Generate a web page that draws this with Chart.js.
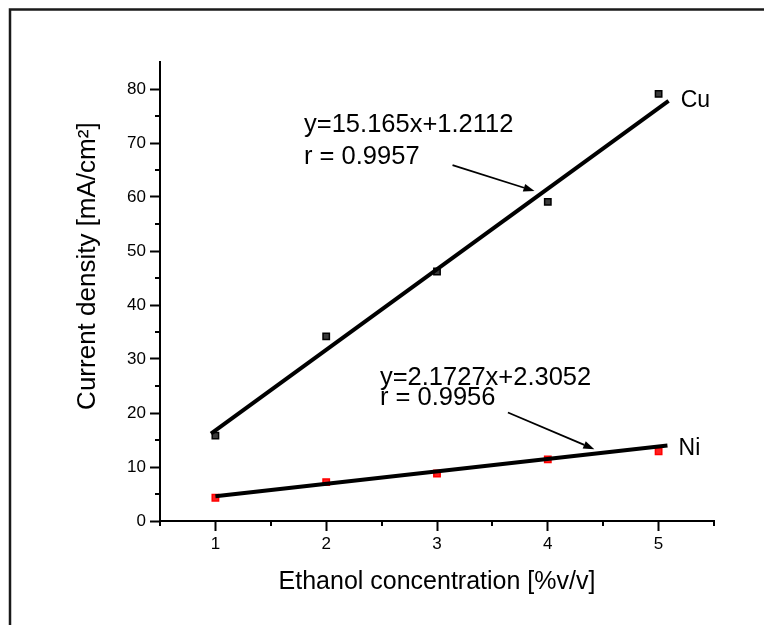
<!DOCTYPE html>
<html>
<head>
<meta charset="utf-8">
<script src="https://cdn.jsdelivr.net/npm/chart.js@4.4.1/dist/chart.umd.min.js"></script>
<style>
html, body { margin: 0; padding: 0; background: #fff; }
#wrap { width: 764px; height: 625px; }
</style>
</head>
<body>
<div id="wrap"><canvas id="chart" width="764" height="625"></canvas></div>
<script>
// measured points
var concentration = [1, 2, 3, 4, 5];
var cuDensity = [15.8, 34.2, 46.2, 59.1, 79.1];
var niDensity = [4.3, 7.2, 8.8, 11.4, 12.9];

// fitted lines, end points as drawn
var cuFitX = [0.96, 5.09];
var cuFitY = [16.2, 77.8];
var niFitX = [1.0, 5.08];
var niFitY = [4.6, 14.0];

// axis ticks
var xTicks = [1, 2, 3, 4, 5];
var yTicks = [0, 10, 20, 30, 40, 50, 60, 70, 80];
var xMinorTicks = [0.5, 1.5, 2.5, 3.5, 4.5, 5.5];
var yMinorTicks = [5, 15, 25, 35, 45, 55, 65, 75];

// text notes and arrows, in data units
var notes = [
  { text: 'y=15.165x+1.2112', x: 1.8, y: 72.1, size: 25.5 },
  { text: 'r = 0.9957', x: 1.8, y: 66.2, size: 25.5 },
  { text: 'y=2.1727x+2.3052', x: 2.485, y: 25.2, size: 25.5 },
  { text: 'r = 0.9956', x: 2.485, y: 21.5, size: 25.5 },
  { text: 'Cu', x: 5.2, y: 76.7, size: 23 },
  { text: 'Ni', x: 5.18, y: 12.2, size: 23 }
];
var arrows = [
  { from: [3.14, 65.9], to: [3.88, 61.1] },
  { from: [3.64, 20.1], to: [4.42, 13.3] }
];

var FONT = "'Liberation Sans', Arial, sans-serif";

function pts(xs, ys) {
  return xs.map(function (x, i) { return { x: x, y: ys[i] }; });
}

var decorations = {
  id: 'decorations',
  beforeDraw: function (chart) {
    var ctx = chart.ctx;
    ctx.save();
    ctx.fillStyle = '#fff';
    ctx.fillRect(0, 0, chart.width, chart.height);
    // outer frame (open at right and bottom)
    ctx.strokeStyle = '#1a1a1a';
    ctx.lineWidth = 2.5;
    ctx.beginPath();
    ctx.moveTo(10, chart.height + 5);
    ctx.lineTo(10, 9.5);
    ctx.lineTo(chart.width + 5, 9.5);
    ctx.stroke();
    ctx.restore();
  },
  afterDraw: function (chart) {
    var ctx = chart.ctx;
    var xs = chart.scales.x, ys = chart.scales.y;
    var area = chart.chartArea;
    ctx.save();
    ctx.strokeStyle = '#000';
    ctx.fillStyle = '#000';
    ctx.lineWidth = 2;

    // minor ticks
    ctx.beginPath();
    xMinorTicks.forEach(function (v) {
      var px = Math.round(xs.getPixelForValue(v));
      ctx.moveTo(px, area.bottom);
      ctx.lineTo(px, area.bottom + 5);
    });
    yMinorTicks.forEach(function (v) {
      var py = Math.round(ys.getPixelForValue(v));
      ctx.moveTo(area.left - 5, py);
      ctx.lineTo(area.left, py);
    });
    ctx.stroke();

    // y axis title
    ctx.save();
    ctx.translate(area.left - 72, ys.getPixelForValue(47.2));
    ctx.rotate(-Math.PI / 2);
    ctx.font = '26px ' + FONT;
    ctx.textAlign = 'center';
    ctx.textBaseline = 'middle';
    ctx.fillText('Current density [mA/cm²]', 0, 0);
    ctx.restore();

    // notes
    ctx.textAlign = 'left';
    ctx.textBaseline = 'alphabetic';
    notes.forEach(function (n) {
      ctx.font = n.size + 'px ' + FONT;
      ctx.fillText(n.text, xs.getPixelForValue(n.x), ys.getPixelForValue(n.y));
    });

    // arrows
    arrows.forEach(function (a) {
      var x0 = xs.getPixelForValue(a.from[0]), y0 = ys.getPixelForValue(a.from[1]);
      var x1 = xs.getPixelForValue(a.to[0]), y1 = ys.getPixelForValue(a.to[1]);
      var ang = Math.atan2(y1 - y0, x1 - x0);
      var len = 11, half = 4;
      var bx = x1 - len * Math.cos(ang), by = y1 - len * Math.sin(ang);
      ctx.lineWidth = 1.8;
      ctx.beginPath();
      ctx.moveTo(x0, y0);
      ctx.lineTo(bx, by);
      ctx.stroke();
      ctx.beginPath();
      ctx.moveTo(x1, y1);
      ctx.lineTo(bx + half * Math.sin(ang), by - half * Math.cos(ang));
      ctx.lineTo(bx - half * Math.sin(ang), by + half * Math.cos(ang));
      ctx.closePath();
      ctx.fill();
    });
    ctx.restore();
  }
};

var axisGrid = {
  drawOnChartArea: false,
  drawTicks: true,
  tickLength: 10,
  tickWidth: 2,
  tickColor: '#000'
};

var ctx = document.getElementById('chart');
var chart = new Chart(ctx, {
  type: 'scatter',
  data: {
    datasets: [
      {
        label: 'Cu fit',
        data: pts(cuFitX, cuFitY),
        showLine: true,
        borderColor: '#000',
        borderWidth: 4,
        pointRadius: 0
      },
      {
        label: 'Ni fit',
        data: pts(niFitX, niFitY),
        showLine: true,
        borderColor: '#000',
        borderWidth: 4,
        pointRadius: 0
      },
      {
        label: 'Cu',
        data: pts(concentration, cuDensity),
        pointStyle: 'rect',
        pointRadius: 4.5,
        backgroundColor: '#3a3a3a',
        borderColor: '#000',
        borderWidth: 1.5
      },
      {
        label: 'Ni',
        data: pts(concentration, niDensity),
        pointStyle: 'rect',
        pointRadius: 4.5,
        backgroundColor: '#ff2020',
        borderColor: '#ff0000',
        borderWidth: 1.5
      }
    ]
  },
  options: {
    responsive: false,
    animation: false,
    layout: { padding: { left: 10, right: 50, top: 62, bottom: 24 } },
    plugins: {
      legend: { display: false },
      tooltip: { enabled: false }
    },
    scales: {
      x: {
        type: 'linear',
        min: 0.5,
        max: 5.5,
        afterBuildTicks: function (scale) {
          scale.ticks = xTicks.map(function (v) { return { value: v }; });
        },
        afterFit: function (scale) { scale.height = 80; },
        grid: axisGrid,
        border: { display: true, color: '#000', width: 2 },
        ticks: {
          color: '#000',
          padding: 3,
          maxRotation: 0,
          font: { family: FONT, size: 17 }
        },
        title: {
          display: true,
          text: 'Ethanol concentration [%v/v]',
          color: '#000',
          font: { family: FONT, size: 25 },
          padding: { top: 0, bottom: 4 }
        }
      },
      y: {
        type: 'linear',
        min: 0,
        max: 85,
        afterBuildTicks: function (scale) {
          scale.ticks = yTicks.map(function (v) { return { value: v }; });
        },
        afterFit: function (scale) { scale.width = 150; },
        grid: axisGrid,
        border: { display: true, color: '#000', width: 2 },
        ticks: {
          color: '#000',
          padding: 4,
          font: { family: FONT, size: 17 }
        }
      }
    }
  },
  plugins: [decorations]
});
</script>
</body>
</html>
